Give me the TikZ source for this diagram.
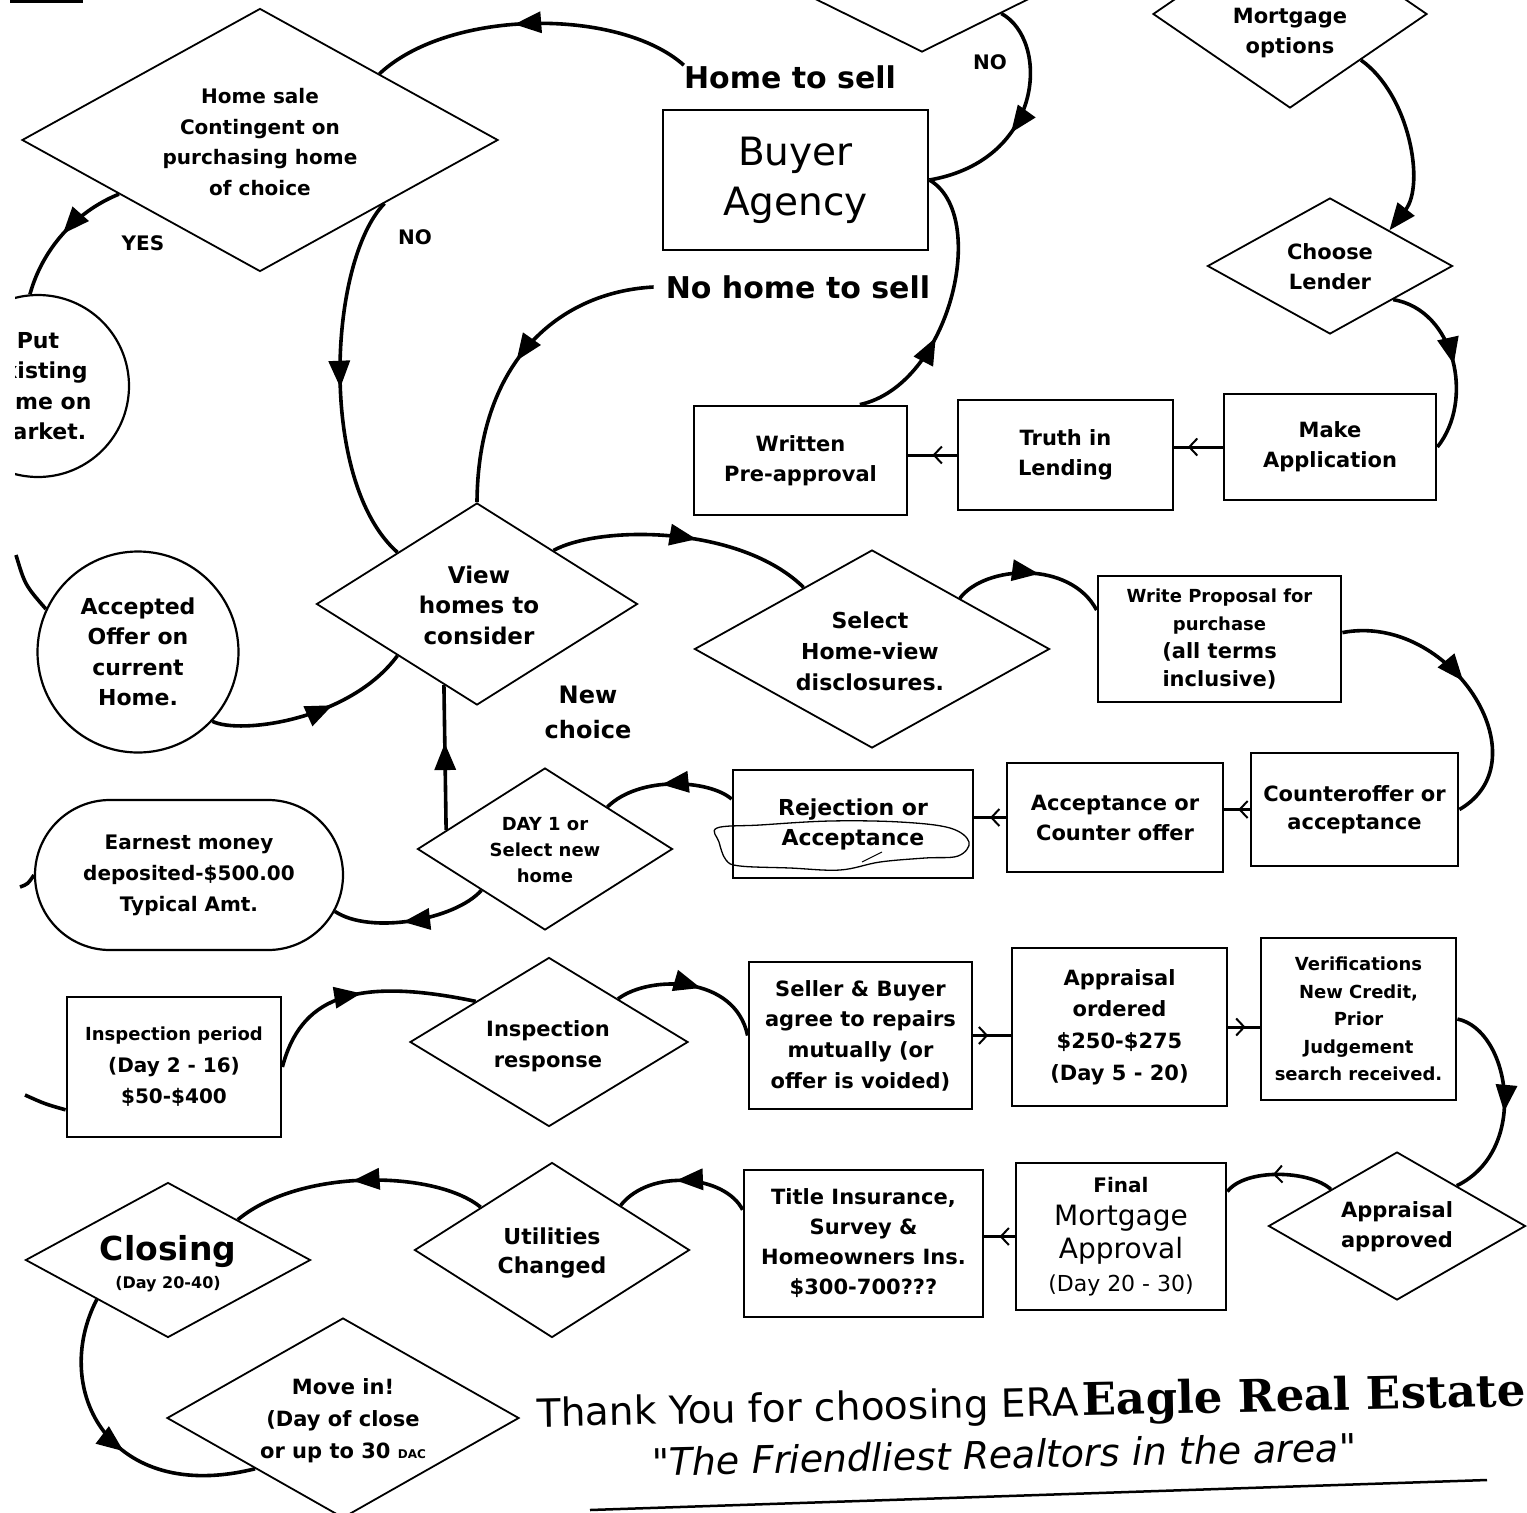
\documentclass[tikz,border=0pt]{standalone}
\usepackage{fontspec}
\newfontfamily\dv{DejaVu Sans}
\newfontfamily\dvs{DejaVu Serif}
\usetikzlibrary{shapes.geometric,shapes.misc,arrows.meta,decorations.markings,calc}
\newcommand\fsz[2]{\fontsize{#1}{#2}\selectfont}
\tikzset{
  lb/.style={font={\dv\bfseries\fsz{21}{30}}, align=center, inner sep=0pt},
  box/.style={draw, rectangle, line width=2.8pt, inner sep=0pt, font={\dv\bfseries\fsz{21}{30}}, align=center},
  dia/.style={draw, diamond, line width=1.8pt, inner sep=0pt},
  circ/.style={draw, circle, line width=2.2pt, inner sep=0pt, font={\dv\bfseries\fsz{22}{30.5}}, align=center},
  conn/.style={line width=3.6pt},
  sconn/.style={line width=3pt},
  marr/.style={postaction={decorate, decoration={markings, mark=at position #1 with {\arrow{Triangle[length=27pt,width=21pt]}}}}},
  barb/.style={postaction={decorate, decoration={markings, mark=at position #1 with {\arrow[line width=2pt]{Straight Barb[length=8pt,width=17pt]}}}}},
  endtip/.style={-{Triangle[length=27pt,width=21pt]}},
}
\begin{document}
\begin{tikzpicture}[x=1pt,y=-1pt]
\useasboundingbox (0,0) rectangle (1527,1513);
\fill[white] (0,0) rectangle (1527,1513);
\clip (0,0) rectangle (1527,1513);

\fill (10,0) rectangle (83,3);

% ---------- top row
\node[dia, minimum width=476pt, minimum height=263pt] (A) at (260,140) {};
\node[lb, font={\dv\bfseries\fsz{20}{30.5}}] (At) at (260,142) {Home sale\\Contingent on\\purchasing home\\of choice};
\node[dia, minimum width=372pt, minimum height=184pt] (td) at (922,-40) {};
\node[dia, minimum width=274pt, minimum height=188pt] (mo) at (1290,14) {};
\node[lb] (mot) at (1290,33) {Mortgage\\options};
\node[lb, font={\dv\bfseries\fsz{30}{36}}] (hts) at (790,77) {Home to sell};
\node[box, minimum width=265pt, minimum height=140pt, font={\dv\fsz{39}{50}}] (ba) at (795.5,180) {Buyer\\Agency};
\node[lb, font={\dv\bfseries\fsz{30}{36}}] (nhts) at (798,287) {No home to sell};
\node[lb, font={\dv\bfseries\fsz{20}{24}}] (yes) at (143,243) {YES};
\node[lb, font={\dv\bfseries\fsz{20}{24}}] (no1) at (415,237) {NO};
\node[lb, font={\dv\bfseries\fsz{20}{24}}] (no2) at (990,62) {NO};
\node[dia, minimum width=245pt, minimum height=136pt] (cl) at (1330,266) {};
\node[lb] (clt) at (1330,267) {Choose\\Lender};
\begin{scope}
\clip (15,0) rectangle (1527,1513);
\node[circ, minimum size=182pt] (put) at (38,386) {Put\\existing\\home on\\market.};
\end{scope}
\node[box, minimum width=213pt, minimum height=109pt] (wr) at (800.5,460.5) {Written\\Pre-approval};
\node[box, minimum width=215pt, minimum height=110pt] (tl) at (1065.5,455) {Truth in\\Lending};
\node[box, minimum width=212pt, minimum height=106pt] (ma) at (1330,447) {Make\\Application};

% ---------- middle
\node[dia, minimum width=321pt, minimum height=202pt] (V) at (477,604) {};
\node[lb, font={\dv\bfseries\fsz{23}{30.5}}] (Vt) at (479,605) {View\\homes to\\consider};
\node[circ, minimum size=201pt] (aoc) at (138,652) {Accepted\\Offer on\\current\\Home.};
\node[dia, minimum width=355pt, minimum height=198pt] (sh) at (872,649) {};
\node[lb, font={\dv\bfseries\fsz{22}{31}}] (sht) at (870,651) {Select\\Home-view\\disclosures.};
\node[box, minimum width=243pt, minimum height=126pt, font={\dv\bfseries\fsz{21}{28.3}}] (wp) at (1219.5,639) {{\fsz{18}{28}Write Proposal for}\\{\fsz{18}{28}purchase}\\(all terms\\inclusive)};
\node[lb, font={\dv\bfseries\fsz{24}{35}}] (nc) at (588,712) {New\\choice};
\node[box, minimum width=207pt, minimum height=113pt, font={\dv\bfseries\fsz{21}{28}}] (co) at (1354.5,809.5) {Counteroffer or\\acceptance};
\node[box, minimum width=216pt, minimum height=109pt] (ac) at (1115,817.5) {Acceptance or\\Counter offer};
\node[box, minimum width=240pt, minimum height=108pt, font={\dv\bfseries\fsz{22}{30}}] (rj) at (853,824) {Rejection or\\Acceptance};
\node[dia, minimum width=255pt, minimum height=162pt] (d1) at (545,849) {};
\node[lb, font={\dv\bfseries\fsz{18}{26}}] (d1t) at (545,850) {DAY 1 or\\Select new\\home};
\node[draw, rounded rectangle, line width=2.2pt, minimum width=308pt, minimum height=150pt, inner sep=0pt, font={\dv\bfseries\fsz{20}{31}}, align=center] (em) at (189,875) {Earnest money\\deposited-\$500.00\\Typical Amt.};

% ---------- lower
\node[box, minimum width=214pt, minimum height=140pt, font={\dv\bfseries\fsz{20}{31.5}}] (ip) at (174,1067) {{\fsz{18}{31}Inspection period}\\(Day 2 - 16)\\\$50-\$400};
\node[dia, minimum width=278pt, minimum height=169pt] (ir) at (549,1042) {};
\node[lb, font={\dv\bfseries\fsz{21}{31}}] (irt) at (548,1046) {Inspection\\response};
\node[box, minimum width=223pt, minimum height=147pt, font={\dv\bfseries\fsz{21}{30.7}}] (sb) at (860.5,1035.5) {Seller \& Buyer\\agree to repairs\\mutually (or\\offer is voided)};
\node[box, minimum width=215pt, minimum height=158pt, font={\dv\bfseries\fsz{21}{31.7}}] (ao) at (1119.5,1027) {Appraisal\\ordered\\\$250-\$275\\(Day 5 - 20)};
\node[box, minimum width=195pt, minimum height=162pt, font={\dv\bfseries\fsz{18}{27.5}}] (ve) at (1358.5,1019) {Verifications\\New Credit,\\Prior\\Judgement\\search received.};
\node[dia, minimum width=257pt, minimum height=148pt] (aa) at (1397,1226) {};
\node[lb] (aat) at (1397,1227) {Appraisal\\approved};
\node[box, minimum width=210pt, minimum height=147pt, font={\dv\bfseries\fsz{20}{33}}] (fm) at (1121,1236.5) {Final\\{\mdseries\fsz{28}{33}Mortgage}\\{\mdseries\fsz{28}{33}Approval}\\{\mdseries\fsz{22}{33}(Day 20 - 30)}};
\node[box, minimum width=239pt, minimum height=147pt, font={\dv\bfseries\fsz{21}{30}}] (ti) at (863.5,1243.5) {Title Insurance,\\Survey \&\\Homeowners Ins.\\\$300-700???};
\node[dia, minimum width=275pt, minimum height=175pt] (uc) at (552,1250) {};
\node[lb, font={\dv\bfseries\fsz{22}{29}}] (uct) at (552,1253) {Utilities\\Changed};
\node[dia, minimum width=285pt, minimum height=155pt] (cg) at (168,1260) {};
\node[lb, font={\dv\bfseries\fsz{33}{28}}] (cgt) at (168,1263.5) {Closing\\{\fsz{16}{20}(Day 20-40)}};
\node[dia, minimum width=352pt, minimum height=200pt] (mi) at (343,1418) {};
\node[lb, font={\dv\bfseries\fsz{21}{32}}] (mit) at (343,1421) {Move in!\\(Day of close\\or up to 30 {\fsz{12}{12}DAC}};

% ---------- free ends
\coordinate (s1) at (20,887);
\coordinate (s2) at (16,555);
\coordinate (s3) at (25,1095);

% ---------- connectors
\draw[conn, marr=0.55] (hts.north west) .. controls (620,8) and (450,8) .. (A.29);
\draw[conn, marr=0.52] ([xshift=-12pt]nhts.west) .. controls (560,292) and (478,360) .. (V.north);
\draw[conn, marr=0.5] (A.201) .. controls (75,212) and (42,250) .. (put.95);
\draw[conn, marr=0.52] (A.333) .. controls (328,262) and (318,482) .. (V.147);
\draw[conn, marr=0.38] ($(wr.north)!0.55!(wr.north east)$) .. controls (950,385) and (990,215) .. (ba.east);
\draw[conn, marr=0.58] (td.326) .. controls (1050,40) and (1045,160) .. (ba.east);
\draw[conn, endtip] (mo.327) .. controls (1410,95) and (1425,185) .. (cl.31);
\draw[conn, marr=0.52] (cl.332) .. controls (1455,310) and (1475,400) .. (ma.east);
\draw[sconn, barb=0.72] (ma.west) -- (ma.west -| tl.east);
\draw[sconn, barb=0.5] (tl.west) -- (tl.west -| wr.east);

\draw[conn, marr=0.55] (V.35) .. controls (600,525) and (740,525) .. (sh.138);
\draw[conn, marr=0.55] (sh.30) .. controls (985,565) and (1070,560) .. ($(wp.west)!0.45!(wp.north west)$);
\draw[conn, marr=0.48] ($(wp.east)!0.1!(wp.north east)$) .. controls (1450,612) and (1545,760) .. (co.east);
\draw[sconn, barb=0.45] (co.west) -- (co.west -| ac.east);
\draw[sconn, barb=0.5] (ac.west) -- (ac.west -| rj.east);
\draw[conn, marr=0.55] ($(rj.west)!0.45!(rj.north west)$) .. controls (710,780) and (640,775) .. (d1.34);
\draw[conn, marr=0.6] ($(d1.west)!0.23!(d1.north)$) -- ($(V.west)!0.795!(V.south)$);
\draw[conn, marr=0.55] (d1.213) .. controls (455,920) and (370,935) .. (em.346);
\draw[conn] (s1) .. controls (28,884) .. (em.west);
\draw[conn, marr=0.6] (aoc.317) .. controls (240,735) and (350,720) .. (V.213);
\draw[conn] (s2) .. controls (25,585) .. (aoc.155);

\draw[conn] (s3) .. controls (45,1104) .. ($(ip.west)!0.6!(ip.south west)$);
\draw[conn, marr=0.5] (ip.east) .. controls (300,1000) and (350,975) .. (ir.151);
\draw[conn, marr=0.55] (ir.32) .. controls (650,975) and (735,975) .. (sb.west);
\draw[sconn, barb=0.4] (sb.east) -- (sb.east -| ao.west);
\draw[sconn, barb=0.55] (ao.east) -- (ao.east -| ve.west);
\draw[conn, marr=0.55] (ve.east) .. controls (1510,1030) and (1530,1150) .. (aa.34);
\draw[conn, barb=0.55] (aa.151) .. controls (1310,1170) and (1245,1168) .. ($(fm.east)!0.6!(fm.north east)$);
\draw[sconn, barb=0.5] (fm.west) -- (fm.west -| ti.east);
\draw[conn, marr=0.55] ($(ti.west)!0.45!(ti.north west)$) .. controls (725,1175) and (650,1168) .. (uc.33);
\draw[conn, marr=0.52] (uc.149) .. controls (435,1170) and (300,1168) .. (cg.30);
\draw[conn, marr=0.55] (cg.209) .. controls (50,1390) and (110,1505) .. (mi.210);

% ---------- hand-drawn loop round "Acceptance"
\draw[line width=1.3pt] plot[smooth cycle, tension=0.6] coordinates {(717,828) (760,825) (830,821) (900,822) (950,828) (969,842) (958,856) (925,858) (880,862) (840,870) (790,868) (740,866) (726,860) (719,842)};
\draw[line width=1pt] (862,862) -- (882,852);

% ---------- footer
\node[anchor=base west, rotate=1.2, inner sep=0pt] (thx) at (537,1427) {{\dv\fsz{39}{40}Thank You for choosing ERA}\hspace{4pt}{\dvs\bfseries\fsz{45}{46}Eagle Real Estate}};
\node[anchor=base west, rotate=1.2, inner sep=0pt] (frl) at (652,1476) {\dv\itshape\fsz{38}{40}"The Friendliest Realtors in the area"};
\coordinate (bl1) at (590,1510);
\coordinate (bl2) at (1487,1480);
\draw[line width=2.5pt] (bl1) -- (bl2);
\end{tikzpicture}
\end{document}
